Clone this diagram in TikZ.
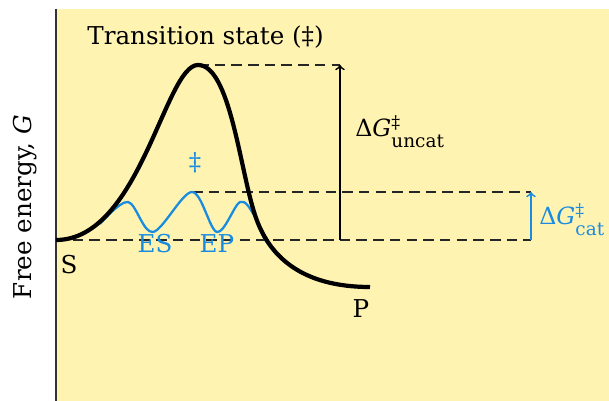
\documentclass[tikz,border=0pt]{standalone}
\usepackage{fontspec}
\setmainfont{DejaVu Serif}
\tikzset{>=to}
\definecolor{bgyellow}{RGB}{255,243,178}
\definecolor{catblue}{RGB}{25,140,225}
\colorlet{dashcol}{black!85}
\tikzstyle{levelline}=[dashcol,line width=1.4pt,dash pattern=on 6pt off 3.5pt]
\tikzstyle{pathline}=[black,line width=2.4pt]
\tikzstyle{catline}=[catblue,line width=1.3pt]
\tikzstyle{lbl}=[inner sep=0pt,font=\fontsize{14}{16}\selectfont]
\tikzstyle{dglbl}=[inner sep=0pt,font=\fontsize{13.5}{16}\selectfont]
\newcommand{\dGlabel}[1]{Δ\textit{G}\rlap{\raisebox{5pt}{\fontsize{10}{12}\selectfont ‡}}\raisebox{-6pt}{\fontsize{10.5}{12}\selectfont #1}}

\begin{document}
\begin{tikzpicture}[x=0.02cm,y=-0.02cm]
  \useasboundingbox (0,0) rectangle (609,401);
  \fill[bgyellow] (57,9) rectangle (609,401);

  % LEVELS
  \coordinate (S)        at (56,240);
  \coordinate (TS)       at (198,65);
  \coordinate (TScat)    at (192,192);
  \coordinate (P)        at (370,287);
  \coordinate (uncattop) at (340,65);
  \coordinate (uncatbot) at (340,240);
  \coordinate (cattop)   at (531,192);
  \coordinate (catbot)   at (531,240);

  % AXIS
  \draw[black!80,line width=1.1pt] (56,9) -- (56,401);

  \draw[levelline] (S) -- (catbot);
  \draw[levelline] (TScat) -- (cattop);
  \draw[levelline] (TS) -- (uncattop);

  % PATHS
  \draw[catline] plot[smooth,tension=0.55] coordinates {
    (100,224) (128,202) (153,232) (TScat) (217,232) (240,202) (254,215) (264,238) (277,255)};
  \draw[pathline] (S) .. controls (140,240) and (165,65) .. (TS)
    .. controls (230,65) and (240,170) .. (255,215)
    .. controls (268,255) and (300,287) .. (P);

  % ARROWS
  \draw[->,line width=1pt] (uncatbot) -- (uncattop);
  \draw[->,line width=1pt,catblue] (catbot) -- (cattop);

  % LABELS
  \node[lbl,anchor=base west] (title) at (87,45) {Transition state (‡)};
  \node[lbl,catblue] (ddag) at (195,163) {‡};
  \node[dglbl,anchor=base west] (dGuncat) at (355,137) {\dGlabel{uncat}};
  \node[dglbl,anchor=base west,catblue] (dGcat) at (539,225) {\dGlabel{cat}};
  \node[lbl] (Slbl) at (69,265) {S};
  \node[lbl] (Plbl) at (361,309) {P};
  \node[lbl,catblue] (ES) at (155,244) {ES};
  \node[lbl,catblue] (EP) at (217,244) {EP};
  \node[lbl,rotate=90] (ylbl) at (25,207) {Free energy, \textit{G}};
\end{tikzpicture}
\end{document}
